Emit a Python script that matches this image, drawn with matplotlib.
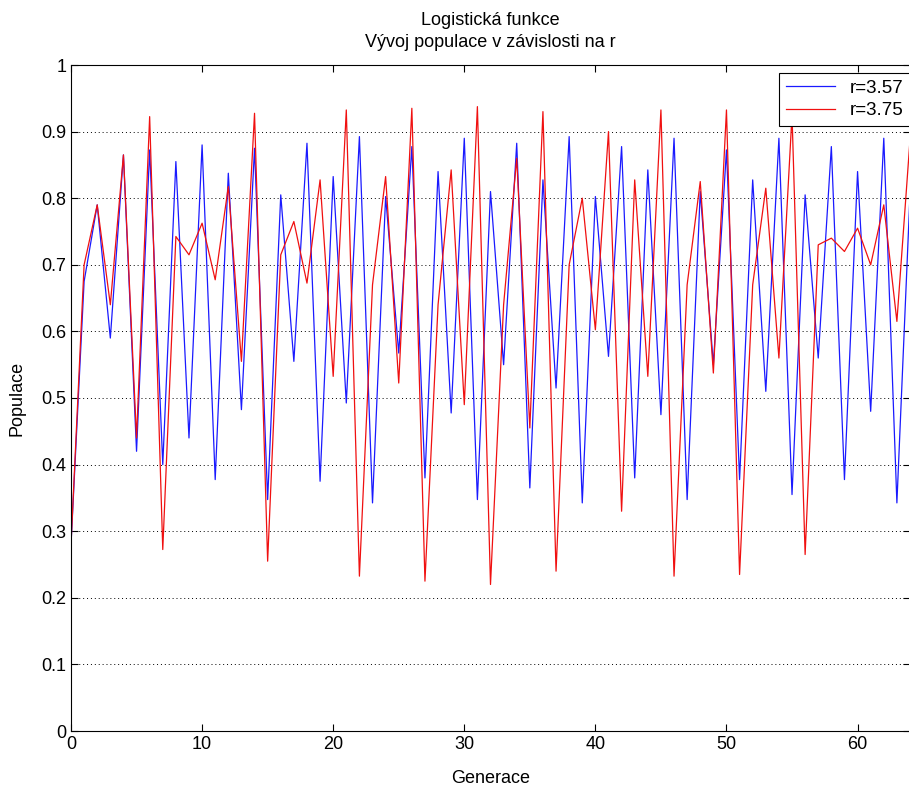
"""logisticka funkce - vyvoj populace"""

import matplotlib
matplotlib.use("Agg")
import matplotlib.pyplot as plt

plt.rcParams["font.family"] = ["Liberation Sans", "DejaVu Sans"]

generace = list(range(65))

# r = 3.57
pop_357 = [0.28, 0.675, 0.79, 0.59, 0.865, 0.42, 0.8725, 0.40, 0.855, 0.44,
           0.88, 0.3775, 0.8375, 0.4825, 0.875, 0.3475, 0.805, 0.555, 0.8825, 0.375,
           0.8325, 0.4925, 0.8925, 0.3425, 0.8025, 0.5675, 0.8775, 0.38, 0.84, 0.4775,
           0.89, 0.3475, 0.81, 0.55, 0.8825, 0.365, 0.8275, 0.515, 0.8925, 0.3425,
           0.8025, 0.5625, 0.8775, 0.38, 0.8425, 0.475, 0.89, 0.3475, 0.81, 0.55,
           0.8725, 0.3775, 0.8275, 0.51, 0.89, 0.355, 0.805, 0.56, 0.8775, 0.3775,
           0.84, 0.48, 0.89, 0.3425, 0.805]

# r = 3.75
pop_375 = [0.28, 0.70, 0.79, 0.64, 0.865, 0.44, 0.9225, 0.2725, 0.7425, 0.715,
           0.7625, 0.6775, 0.8175, 0.555, 0.9275, 0.255, 0.715, 0.765, 0.6725, 0.8275,
           0.5325, 0.9325, 0.2325, 0.67, 0.8325, 0.5225, 0.935, 0.225, 0.64, 0.8425,
           0.49, 0.9375, 0.22, 0.64, 0.86, 0.455, 0.93, 0.24, 0.70, 0.80,
           0.6025, 0.90, 0.33, 0.8275, 0.5325, 0.9325, 0.2325, 0.67, 0.825, 0.5375,
           0.9325, 0.235, 0.67, 0.815, 0.56, 0.925, 0.265, 0.73, 0.74, 0.72,
           0.755, 0.70, 0.79, 0.615, 0.8875]

y_ticks = [0, 0.1, 0.2, 0.3, 0.4, 0.5, 0.6, 0.7, 0.8, 0.9, 1]
y_labels = ["0", "0.1", "0.2", "0.3", "0.4", "0.5", "0.6", "0.7", "0.8", "0.9", "1"]
x_ticks = [0, 10, 20, 30, 40, 50, 60]

fig = plt.figure(figsize=(9.09, 7.85), dpi=100)
ax = fig.add_axes([71 / 909, 54 / 785, 839 / 909, 666 / 785])

ax.plot(generace, pop_357, color="#1a1aff", lw=0.9, label="r=3.57")
ax.plot(generace, pop_375, color="#f01010", lw=0.9, label="r=3.75")

ax.set_xlim(0, 64)
ax.set_ylim(0, 1)
ax.set_xticks(x_ticks)
ax.set_yticks(y_ticks)
ax.set_yticklabels(y_labels)
ax.tick_params(direction="in", top=True, right=True, labelsize=13, length=5)
ax.yaxis.grid(True, linestyle=(0, (1, 3)), color="black", lw=0.7)

ax.set_title("Logistická funkce\nVývoj populace v závislosti na r", fontsize=13,
             linespacing=1.35, pad=13)
ax.set_xlabel("Generace", fontsize=13, labelpad=12)
ax.set_ylabel("Populace", fontsize=13, labelpad=11)

leg = ax.legend(loc="upper right", bbox_to_anchor=(1.0, 0.988), fontsize=13.5,
                fancybox=False, framealpha=1, edgecolor="black", handlelength=2.6,
                borderaxespad=0, borderpad=0.35, labelspacing=0.3)
leg.get_frame().set_linewidth(0.8)

plt.savefig("out.png", dpi=100)
